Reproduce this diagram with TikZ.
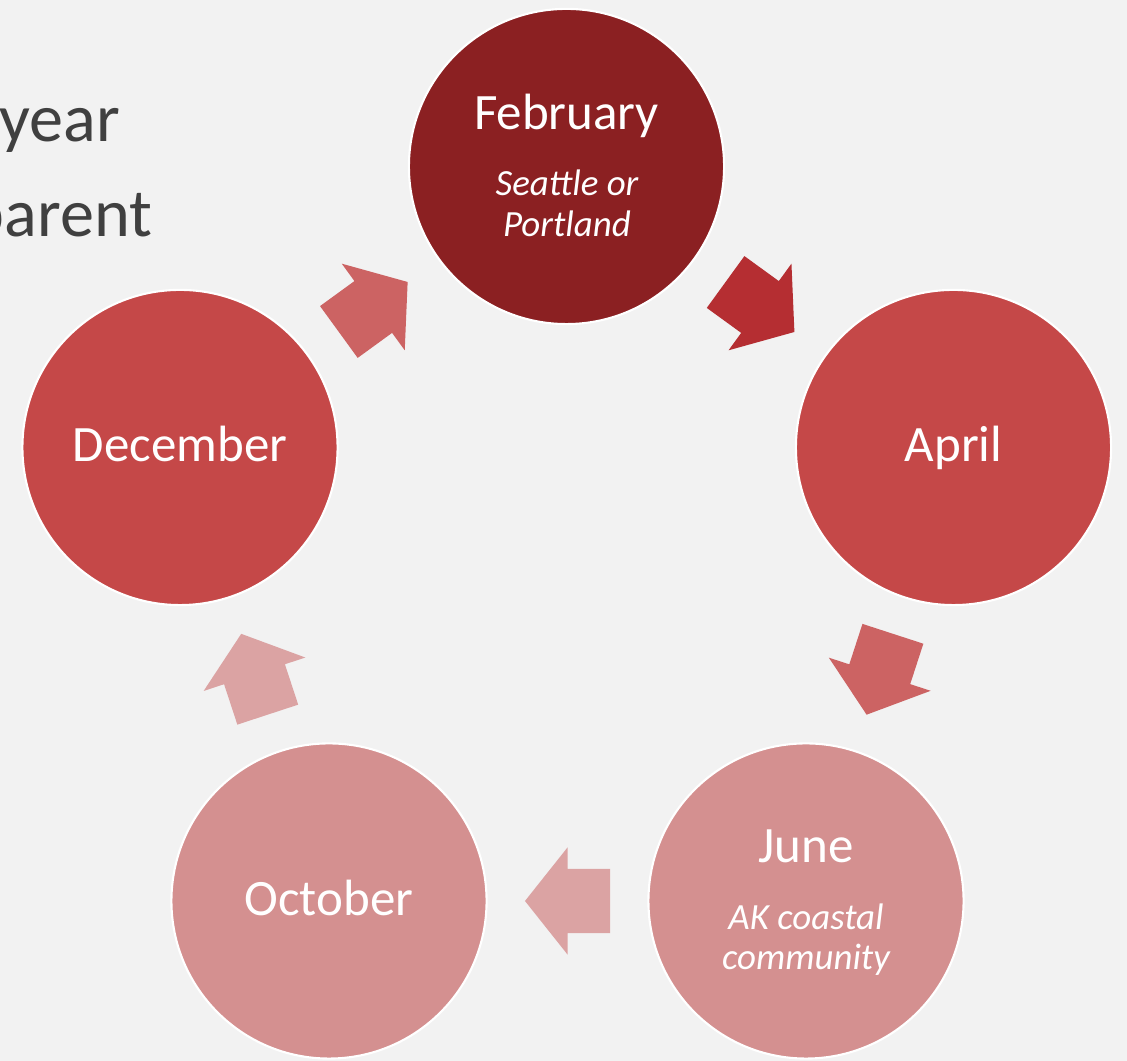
\documentclass[tikz,border=0pt]{standalone}
\usepackage{fontspec}
\setmainfont{Carlito}
\usepackage{tikz}
\usetikzlibrary{calc}

\definecolor{bg}{HTML}{F2F2F2}
\definecolor{febcol}{HTML}{8B2022}
\definecolor{midcol}{HTML}{C54848}
\definecolor{lightcol}{HTML}{D49090}
\definecolor{arrdark}{HTML}{B52E32}
\definecolor{arrmid}{HTML}{CC6363}
\definecolor{arrlight}{HTML}{DBA3A3}
\definecolor{greytxt}{HTML}{404040}

\begin{document}
\begin{tikzpicture}[x=0.01cm,y=0.01cm,
    month/.style={circle,draw=white,line width=0.6pt,minimum size=3.15cm,inner sep=0pt},
    mname/.style={text=white,font=\fontsize{14.5}{17}\selectfont,anchor=base,inner sep=0pt},
    mplace/.style={text=white,font=\fontsize{10.5}{12}\selectfont\itshape,anchor=base,inner sep=0pt}]
    \fill[bg] (0,0) rectangle (1127,1061);
    \useasboundingbox (0,0) rectangle (1127,1061);

    \node[greytxt,font=\fontsize{19.4}{23}\selectfont,anchor=base east,inner sep=0pt] (yr) at (121,919) {year};
    \node[greytxt,font=\fontsize{19.4}{23}\selectfont,anchor=base east,inner sep=0pt] (par) at (153,824) {parent};

    \node[month,fill=febcol] (feb) at (566.5,894.5) {};
    \node[month,fill=midcol] (apr) at (953.5,613.5) {};
    \node[month,fill=lightcol] (jun) at (806,160) {};
    \node[month,fill=lightcol] (oct) at (329,160) {};
    \node[month,fill=midcol] (dec) at (180,613.5) {};

    \node[mname] (feb1) at (566.5,931) {February};
    \node[mplace] (feb2) at (567,865) {Seattle or};
    \node[mplace] (feb3) at (567,824) {Portland};
    \node[mname] (apr1) at (953.5,599) {April};
    \node[mname] (jun1) at (806,198) {June};
    \node[mplace] (jun2) at (806,131) {AK coastal};
    \node[mplace] (jun3) at (806,91) {community};
    \node[mname] (oct1) at (329,145) {October};
    \node[mname] (dec1) at (180,599) {December};

    \foreach \a/\b/\c in {feb/apr/arrdark,apr/jun/arrmid,jun/oct/arrlight,oct/dec/arrlight,dec/feb/arrmid}{
        \coordinate (m) at ($(\a)!0.5!(\b)$);
        \coordinate (t) at ($(m)!-0.425cm!(\b)$);
        \coordinate (h) at ($(m)!0.425cm!(\b)$);
        \fill[\c] ($(t)!0.32cm!90:(\b)$) -- ($(m)!0.32cm!90:(\b)$) -- ($(m)!0.535cm!90:(\b)$) -- (h)
            -- ($(m)!0.535cm!-90:(\b)$) -- ($(m)!0.32cm!-90:(\b)$) -- ($(t)!0.32cm!-90:(\b)$) -- cycle;
    }
\end{tikzpicture}
\end{document}
